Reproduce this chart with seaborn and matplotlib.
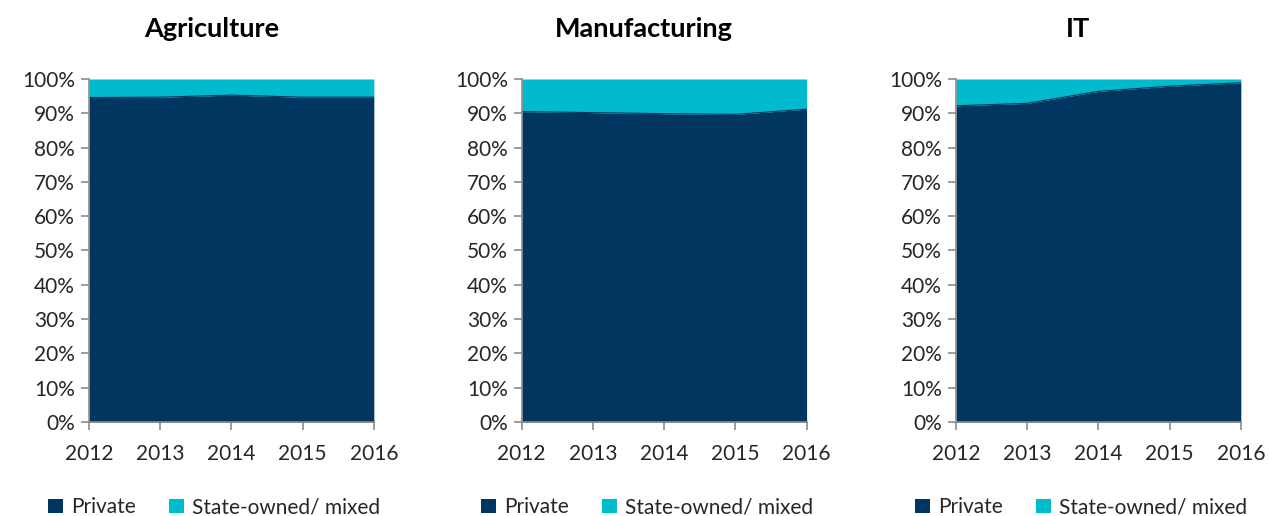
import matplotlib
matplotlib.use("Agg")
import matplotlib.pyplot as plt
from matplotlib.patches import Patch
from matplotlib.ticker import PercentFormatter
import numpy as np
import pandas as pd
import seaborn as sns

years = [2012, 2013, 2014, 2015, 2016]
sectors = ["Agriculture", "Manufacturing", "IT"]
private_agriculture = [94.6, 94.7, 95.3, 94.7, 94.7]
private_manufacturing = [90.5, 90.2, 89.9, 89.7, 91.2]
private_it = [92.2, 92.9, 96.4, 97.9, 98.9]
series_names = ["Private", "State-owned/ mixed"]
colors = ["#003660", "#00BACE"]

sns.set_theme(style="white")
plt.rcParams["font.family"] = ["Lato", "DejaVu Sans"]

rows = []
for sector, vals in zip(sectors, [private_agriculture, private_manufacturing, private_it]):
    for y, v in zip(years, vals):
        rows.append({"sector": sector, "year": y, "Private": v, "Total": 100.0})
df = pd.DataFrame(rows)

fig = plt.figure(figsize=(12.69, 5.16), dpi=100)
lefts = [0.0701, 0.4111, 0.7533]
width = 0.2245
bottom, height = 0.1822, 0.6647

for sector, left in zip(sectors, lefts):
    ax = fig.add_axes([left, bottom, width, height])
    d = df[df["sector"] == sector]
    ax.fill_between(d["year"], 0, d["Private"], color=colors[0], lw=0)
    ax.fill_between(d["year"], d["Private"], d["Total"], color=colors[1], lw=0)
    sns.lineplot(data=d, x="year", y="Private", ax=ax, color=colors[0], lw=0.8)
    ax.set_xlim(years[0], years[-1])
    ax.set_ylim(0, 100)
    ax.set_xticks(years)
    ax.set_yticks(np.arange(0, 101, 10))
    ax.yaxis.set_major_formatter(PercentFormatter(decimals=0))
    ax.set_xlabel("")
    ax.set_ylabel("")
    for s in ["top", "right"]:
        ax.spines[s].set_visible(False)
    for s in ["left", "bottom"]:
        ax.spines[s].set_color("#8C8C8C")
        ax.spines[s].set_linewidth(1.2)
    ax.tick_params(axis="both", which="major", direction="out", length=6,
                   width=1.2, color="#8C8C8C", labelsize=15, labelcolor="#262626",
                   left=True, bottom=True)
    ax.tick_params(axis="x", pad=10)
    ax.tick_params(axis="y", pad=4)
    ax.set_title(sector, fontsize=19.5, fontweight="bold", color="black", pad=30, x=0.43)
    handles = [Patch(facecolor=c, edgecolor="none") for c in colors]
    ax.legend(handles, series_names, loc="upper center", bbox_to_anchor=(0.44, -0.165),
              ncol=2, frameon=False, fontsize=15, handlelength=0.7, handleheight=0.7,
              handletextpad=0.4, columnspacing=1.6, labelcolor="#262626")

fig.savefig("out.png", dpi=100)
